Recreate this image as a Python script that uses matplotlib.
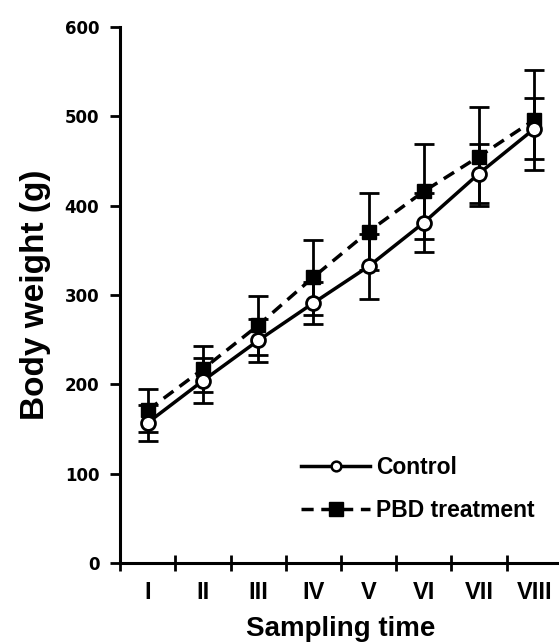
import numpy as np
from matplotlib import pyplot as plt
from matplotlib.lines import Line2D

# values
sampling = ["I", "II", "III", "IV", "V", "VI", "VII", "VIII"]
control = [157, 204, 249, 291, 332, 381, 436, 486]
control_err = [20, 25, 24, 24, 36, 33, 33, 34]
pbd = [171, 217, 266, 320, 371, 416, 455, 496]
pbd_err = [24, 26, 33, 42, 43, 53, 55, 56]

x = np.arange(1, len(sampling) + 1)
dashes = (0, (3.5, 2.2))

fig = plt.figure(figsize=(5.59, 6.44), dpi=100)
ax = fig.add_axes([0.215, 0.126, 0.79, 0.832])

ax.errorbar(x, pbd, yerr=pbd_err, color="black", linestyle=dashes,
            linewidth=2.5, marker="s", markersize=10, markerfacecolor="black",
            capsize=7.5, capthick=2, elinewidth=2, zorder=3)
ax.errorbar(x, control, yerr=control_err, color="black", linestyle="-",
            linewidth=2.5, marker="o", markersize=10, markerfacecolor="white",
            markeredgewidth=2, capsize=7.5, capthick=2, elinewidth=2, zorder=4)

ax.set_xlim(0.5, 8.5)
ax.set_ylim(0, 600)
ax.set_yticks(np.arange(0, 601, 100))
ax.set_yticklabels([str(v) for v in range(0, 601, 100)],
                   fontsize=12, fontweight="bold", family="DejaVu Sans")
ax.set_xticks(x)
ax.set_xticklabels(sampling, fontsize=17, fontweight="bold", family="Liberation Sans")
ax.set_xticks(np.arange(0.5, 8.6, 1), minor=True)
ax.tick_params(axis="x", which="major", length=0, pad=13)
ax.tick_params(axis="x", which="minor", direction="inout", length=11, width=2)
ax.tick_params(axis="y", direction="out", length=7, width=2, pad=8)

for side in ["top", "right"]:
    ax.spines[side].set_visible(False)
for side in ["left", "bottom"]:
    ax.spines[side].set_linewidth(2.2)

ax.set_ylabel("Body weight (g)", fontsize=24, fontweight="bold",
              family="Liberation Sans", labelpad=10)
ax.set_xlabel("Sampling time", fontsize=20, fontweight="bold",
              family="Liberation Sans", labelpad=9)

handles = [
    Line2D([], [], color="black", linewidth=2.5, marker="o", markersize=7,
           markerfacecolor="white", markeredgewidth=1.8),
    Line2D([], [], color="black", linewidth=2.5, linestyle=dashes, marker="s",
           markersize=10, markerfacecolor="black"),
]
ax.legend(handles, ["Control", "PBD treatment"], loc="center left",
          bbox_to_anchor=(0.41, 0.138), borderaxespad=0, borderpad=0,
          frameon=False, handlelength=3.0, handletextpad=0.28, labelspacing=0.88,
          prop={"family": "Liberation Sans", "weight": "bold", "size": 16.5})

fig.savefig("out.png", dpi=100)
